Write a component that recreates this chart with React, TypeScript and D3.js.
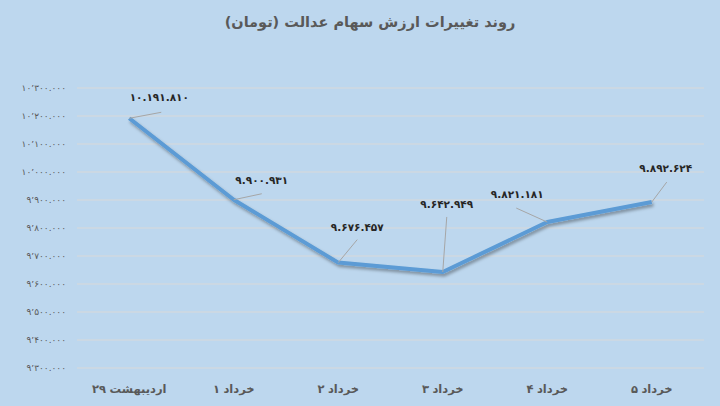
import React, { useLayoutEffect, useRef, useState } from "react";
import * as d3 from "d3";

const title = "روند تغییرات ارزش سهام عدالت (تومان)";
const categories = ["۲۹ اردیبهشت", "۱ خرداد", "۲ خرداد", "۳ خرداد", "۴ خرداد", "۵ خرداد"];
const values = [10191810, 9900931, 9676457, 9642949, 9821181, 9892624];
const yTicks = [9300000, 9400000, 9500000, 9600000, 9700000, 9800000, 9900000, 10000000, 10100000, 10200000, 10300000];

// label layout offsets (relative to point): [labelDx, labelDy, leaderDx, leaderDy]
const labelOffsets = [
  [30, -21, 32, -6],
  [28, -20, 28, -6],
  [19, -36, 19, -23],
  [4, -68, 4, -55],
  [-30, -28, -31, -14],
  [14, -34, 15, -20],
];

const W = 720, H = 406;
const left = 77, right = 704, top = 88, bottom = 368;
const font = "'DejaVu Sans', sans-serif";

const digitsFa = (s: string) => s.replace(/[0-9]/g, (d) => "۰۱۲۳۴۵۶۷۸۹"[+d]);
const fmtLabel = (v: number) => digitsFa(d3.format(",")(v)).replace(/,/g, ".");
const fmtTick = (v: number) => {
  const parts = d3.format(",")(v).split(",");
  return digitsFa(parts[0] + "٬" + parts[1] + "." + parts[2]);
};

function CatLabel({ label, x, y }: { label: string; x: number; y: number }) {
  const [num, ...rest] = label.split(" ");
  const word = rest.join(" ");
  const numRef = useRef<SVGTextElement>(null);
  const wordRef = useRef<SVGTextElement>(null);
  const [w, setW] = useState<[number, number]>([12, 50]);
  useLayoutEffect(() => {
    const a = numRef.current ? numRef.current.getComputedTextLength() : 12;
    const b = wordRef.current ? wordRef.current.getComputedTextLength() : 50;
    if (Math.abs(a - w[0]) > 0.1 || Math.abs(b - w[1]) > 0.1) setW([a, b]);
  });
  const gap = 3.5;
  const total = w[0] + gap + w[1];
  const start = x - total / 2;
  const common = { fontFamily: font, fontWeight: "bold", fontSize: 11.5, fill: "#595959" } as const;
  return (
    <g>
      <text ref={numRef} x={start + w[0] / 2} y={y} textAnchor="middle" {...common}>{num}</text>
      <text ref={wordRef} x={start + w[0] + gap + w[1] / 2} y={y} textAnchor="middle" {...common}>{word}</text>
    </g>
  );
}

export default function App() {
  const x = d3.scaleBand().domain(categories).range([left, right]);
  const y = d3.scaleLinear().domain([9300000, 10300000]).range([bottom, top]);
  const cx = (c: string) => (x(c) as number) + x.bandwidth() / 2;
  const line = d3.line<number>().x((_, i) => cx(categories[i])).y((v) => y(v));
  return (
    <div style={{ position: "fixed", left: 0, top: 0 }}>
      <svg width={W} height={H} style={{ display: "block" }}>
        <defs>
          <filter id="sh" x="-10%" y="-20%" width="120%" height="160%">
            <feDropShadow dx="1.5" dy="2.5" stdDeviation="1.8" floodColor="#000" floodOpacity="0.35" />
          </filter>
        </defs>
        <rect width={W} height={H} fill="#BDD7EE" />
        <text x={370} y={27} textAnchor="middle" fontFamily={font} fontWeight="bold" fontSize={14.5} fill="#595959">
          {title}
        </text>
        {yTicks.map((t) => (
          <g key={t}>
            <line x1={left} x2={right} y1={y(t)} y2={y(t)} stroke="#D9D9D9" strokeWidth={1} />
            <text x={66} y={y(t) + 3} textAnchor="end" fontFamily={font} fontSize={9} fill="#595959" direction="ltr">
              {"\u200E" + fmtTick(t)}
            </text>
          </g>
        ))}
        {categories.map((c) => (
          <CatLabel key={c} label={c} x={cx(c)} y={393} />
        ))}
        <path d={line(values) as string} fill="none" stroke="#5B9BD5" strokeWidth={4} strokeLinejoin="round" filter="url(#sh)" />
        {values.map((v, i) => {
          const px = cx(categories[i]);
          const py = y(v);
          const [ldx, ldy, ex, ey] = labelOffsets[i];
          return (
            <g key={i}>
              <line x1={px} y1={py} x2={px + ex} y2={py + ey} stroke="#A6A6A6" strokeWidth={1} />
              <text x={px + ldx} y={py + ldy + 4} textAnchor="middle" fontFamily={font} fontWeight="bold" fontSize={10.5} letterSpacing={-0.5} fill="#262626" direction="ltr">
                {"\u200E" + fmtLabel(v)}
              </text>
            </g>
          );
        })}
      </svg>
    </div>
  );
}
